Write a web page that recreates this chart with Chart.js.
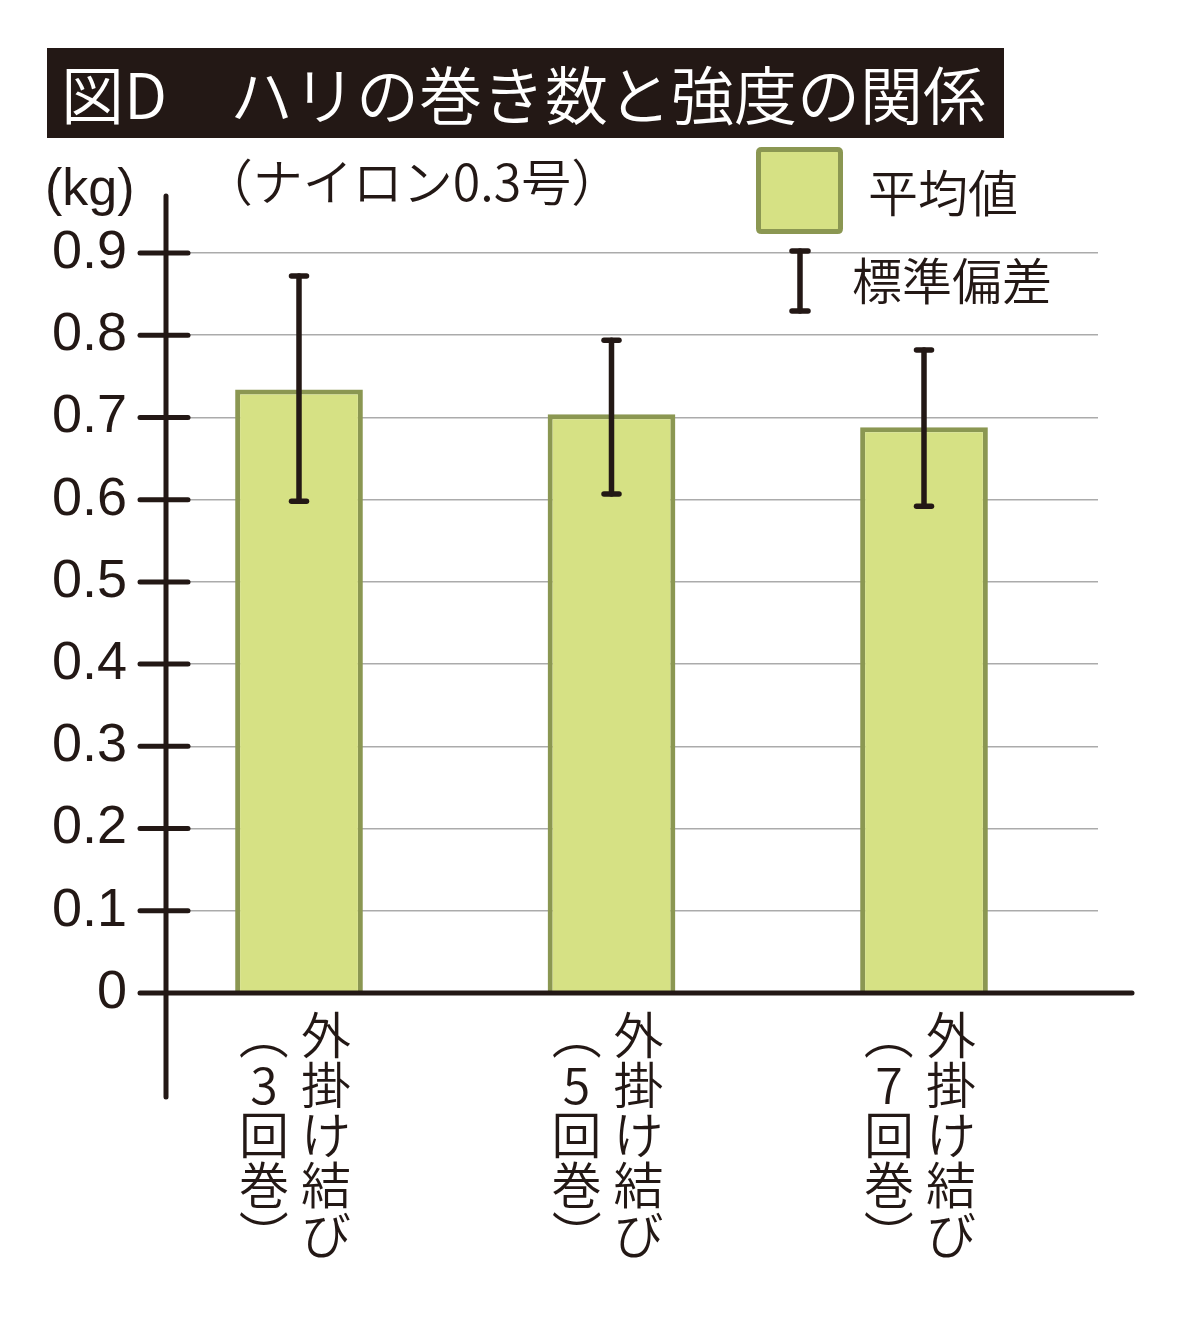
<!DOCTYPE html>
<html>
<head>
<meta charset="utf-8">
<script src="https://cdn.jsdelivr.net/npm/chart.js@4.4.1/dist/chart.umd.min.js"></script>
<style>
html,body{margin:0;padding:0;background:#fff;}
#wrap{width:1200px;height:1320px;}
canvas{display:block;}
</style>
</head>
<body>
<div id="wrap"><canvas id="c" width="1200" height="1320"></canvas></div>
<script>
// ---- data ----
const titleText = '図D　ハリの巻き数と強度の関係';
const subtitleText = '（ナイロン0.3号）';
const unitText = '(kg)';
const categoryMain = ['外掛け結び', '外掛け結び', '外掛け結び'];
const categorySub = ['（3回巻）', '（5回巻）', '（7回巻）'];
const categoryIndex = [0, 1, 2];
const meanValues = [0.734, 0.704, 0.688];
const sdUpper = [0.872, 0.794, 0.782];
const sdLower = [0.598, 0.607, 0.592];
const yTickLabels = ['0', '0.1', '0.2', '0.3', '0.4', '0.5', '0.6', '0.7', '0.8', '0.9'];
const legendMean = '平均値';
const legendSd = '標準偏差';

// ---- styles ----
const INK = '#231815';
const JP = '"Noto Sans CJK JP", "Noto Sans", sans-serif';
const LAT = '"Liberation Sans", Arial, sans-serif';
const BAR_FILL = '#d6e184';
const BAR_EDGE = '#8b9752';
const GRID = '#ababab';

function line(ctx, x1, y1, x2, y2) {
  ctx.beginPath(); ctx.moveTo(x1, y1); ctx.lineTo(x2, y2); ctx.stroke();
}
function drawVertical(ctx, text, cx, top, step) {
  [...text].forEach((ch, k) => {
    const cy = top + step * k;
    if ('（）'.includes(ch)) {
      ctx.save(); ctx.translate(cx, cy); ctx.rotate(Math.PI / 2);
      ctx.fillText(ch, 0, 0); ctx.restore();
    } else {
      ctx.fillText(ch, cx, cy);
    }
  });
}
function roundRect(ctx, x, y, w, h, r) {
  ctx.beginPath();
  ctx.moveTo(x + r, y); ctx.lineTo(x + w - r, y); ctx.quadraticCurveTo(x + w, y, x + w, y + r);
  ctx.lineTo(x + w, y + h - r); ctx.quadraticCurveTo(x + w, y + h, x + w - r, y + h);
  ctx.lineTo(x + r, y + h); ctx.quadraticCurveTo(x, y + h, x, y + h - r);
  ctx.lineTo(x, y + r); ctx.quadraticCurveTo(x, y, x + r, y);
  ctx.closePath();
}

const decorPlugin = {
  id: 'decor',
  beforeDraw(chart) {
    const ctx = chart.ctx;
    ctx.save();
    ctx.fillStyle = '#fff';
    ctx.fillRect(0, 0, chart.width, chart.height);
    // title box
    ctx.fillStyle = INK;
    ctx.fillRect(47, 48, 957, 90);
    ctx.fillStyle = '#fff';
    ctx.font = `350 63px ${JP}`;
    ctx.textAlign = 'left';
    ctx.textBaseline = 'middle';
    ctx.fillText(titleText, 61, 95);
    // subtitle
    ctx.fillStyle = INK;
    ctx.font = `350 50px ${JP}`;
    ctx.textAlign = 'center';
    ctx.fillText(subtitleText, 412, 182);
    // unit
    ctx.font = `52px ${LAT}`;
    ctx.textAlign = 'left';
    ctx.fillText(unitText, 45, 191);
    ctx.restore();
  },
  afterDraw(chart) {
    const ctx = chart.ctx;
    const ya = chart.scales.y;
    const ca = chart.chartArea;
    const meta = chart.getDatasetMeta(0);
    const ds = chart.data.datasets[0];
    ctx.save();
    ctx.strokeStyle = INK;
    ctx.lineCap = 'round';
    ctx.lineWidth = 5;
    // y axis line
    line(ctx, ca.left, ca.top - 57, ca.left, ca.bottom + 104);
    // tick marks across the axis
    ya.ticks.forEach(t => {
      if (t.value === 0) return;
      const y = ya.getPixelForValue(t.value);
      line(ctx, ca.left - 26, y, ca.left + 22, y);
    });
    // x axis line
    const y0 = ya.getPixelForValue(0);
    line(ctx, ca.left - 26, y0, ca.right + 34, y0);

    // error bars
    ctx.lineWidth = 5.5;
    meta.data.forEach((el, i) => {
      const x = el.x;
      const yu = ya.getPixelForValue(sdUpper[i]);
      const yl = ya.getPixelForValue(sdLower[i]);
      line(ctx, x, yu, x, yl);
      line(ctx, x - 7.5, yu, x + 7.5, yu);
      line(ctx, x - 7.5, yl, x + 7.5, yl);
    });

    // category labels (vertical writing)
    ctx.fillStyle = INK;
    ctx.font = `350 50px ${JP}`;
    ctx.textAlign = 'center';
    ctx.textBaseline = 'middle';
    meta.data.forEach((el, i) => {
      drawVertical(ctx, categoryMain[i], el.x + 27, y0 + 42, 50);
      drawVertical(ctx, categorySub[i], el.x - 35, y0 + 42, 50);
    });

    // legend
    ctx.fillStyle = ds.backgroundColor;
    ctx.strokeStyle = ds.borderColor;
    ctx.lineWidth = 5;
    roundRect(ctx, 758.5, 149.5, 82, 82, 3);
    ctx.fill(); ctx.stroke();
    ctx.fillStyle = INK;
    ctx.font = `350 50px ${JP}`;
    ctx.textAlign = 'left';
    ctx.fillText(legendMean, 868, 193);
    ctx.strokeStyle = INK;
    ctx.lineWidth = 5.5;
    line(ctx, 800, 251, 800, 311);
    line(ctx, 792, 251, 808, 251);
    line(ctx, 792, 311, 808, 311);
    ctx.fillText(legendSd, 852, 281);
    ctx.restore();
  }
};

new Chart(document.getElementById('c'), {
  type: 'bar',
  data: {
    datasets: [{
      label: legendMean,
      data: categoryIndex.map((x, i) => ({ x: x, y: meanValues[i] })),
      backgroundColor: BAR_FILL,
      borderColor: BAR_EDGE,
      borderWidth: 5,
      borderSkipped: 'bottom',
      barPercentage: 0.416,
      categoryPercentage: 1
    }]
  },
  options: {
    responsive: false,
    animation: false,
    devicePixelRatio: 1,
    layout: { padding: { top: 253, right: 102, bottom: 327, left: 0 } },
    plugins: {
      legend: { display: false },
      title: { display: false },
      tooltip: { enabled: false }
    },
    scales: {
      x: {
        type: 'linear',
        offset: false,
        bounds: 'data',
        min: -0.4256,
        max: 2.5568,
        display: false,
        grid: { offset: false },
        ticks: { stepSize: 1, includeBounds: false }
      },
      y: {
        min: 0,
        max: 0.9,
        z: 1,
        border: { display: false },
        ticks: {
          stepSize: 0.1,
          padding: 11,
          color: INK,
          font: { family: LAT, size: 54 },
          callback: (v, i) => yTickLabels[i]
        },
        grid: {
          color: c => (c.tick && c.tick.value === 0) ? 'rgba(0,0,0,0)' : GRID,
          lineWidth: 1.5,
          tickLength: 28,
          tickColor: 'rgba(0,0,0,0)',
          drawTicks: true
        },
        afterFit: s => { s.width = 166; }
      }
    }
  },
  plugins: [decorPlugin]
});
</script>
</body>
</html>
